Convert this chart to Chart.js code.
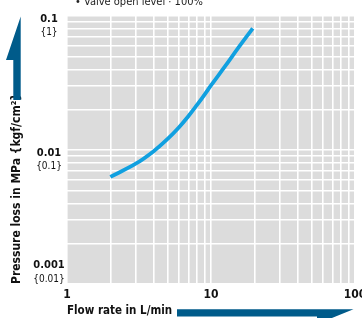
<!DOCTYPE html>
<html>
<head>
<meta charset="utf-8">
<script src="https://cdn.jsdelivr.net/npm/chart.js@4.4.1/dist/chart.umd.min.js"></script>
<style>
  html, body { margin: 0; padding: 0; background: #fff; }
  #wrap { width: 362px; height: 318px; position: relative; }
</style>
</head>
<body>
<div id="wrap"><canvas id="lossChart"></canvas></div>
<script>
// flow rate (L/min) and pressure loss (MPa)
var flowRates = [2, 3, 4, 5, 6, 7, 8, 9, 10, 12.5, 15.5, 19.5];
var pressureLoss = [0.0063, 0.0079, 0.0098, 0.0121, 0.0148, 0.0180, 0.0217, 0.0258, 0.0303, 0.042, 0.058, 0.081];

var xLabelValues = [1, 10, 100];
var xLabels = ["1", "10", "100"];
var yLabelValues = [0.001, 0.01, 0.1];
var yLabelsMPa = ["0.001", "0.01", "0.1"];
var yLabelsKgf = ["{0.01}", "{0.1}", "{1}"];

var noteText = "\u2022 Valve open level \u00b7 100%";
var xTitle = "Flow rate in L/min";
var yTitle = "Pressure loss in MPa {kgf/cm\u00b2}";

var FONT = "'DejaVu Sans Condensed', 'Liberation Sans Narrow', sans-serif";

function decadeGrid(min, max) {
  var out = [];
  for (var d = min; d < max; d *= 10) {
    for (var k = 1; k < 10; k++) out.push(+(k * d).toPrecision(3));
  }
  out.push(max);
  return out;
}

var extras = {
  id: 'extras',
  beforeDraw: function (chart) {
    var c = chart.ctx, a = chart.chartArea;
    c.save();
    c.fillStyle = '#dcdcdc';
    c.fillRect(a.left, a.top, a.right - a.left, a.bottom - a.top);
    c.restore();
  },
  afterDraw: function (chart) {
    var c = chart.ctx, a = chart.chartArea, y = chart.scales.y;
    c.save();
    // y tick labels, two lines each
    c.fillStyle = '#111';
    c.textAlign = 'center';
    c.textBaseline = 'middle';
    for (var i = 0; i < yLabelValues.length; i++) {
      var py = y.getPixelForValue(yLabelValues[i]);
      var y0 = Math.min(py + 3, a.bottom - 18.5);
      c.font = 'bold 11px ' + FONT;
      c.fillText(yLabelsMPa[i], 49, y0);
      c.font = '10px ' + FONT;
      c.fillText(yLabelsKgf[i], 49, y0 + 13.5);
    }
    // note at top
    c.textAlign = 'left';
    c.textBaseline = 'alphabetic';
    c.font = '11px ' + FONT;
    c.fillStyle = '#222';
    c.fillText(noteText, 75, 5);

    // arrows
    c.fillStyle = '#005b8a';
    c.beginPath();
    c.moveTo(20.7, 16.5);
    c.lineTo(20.7, 100);
    c.lineTo(13.3, 100);
    c.lineTo(13.3, 60);
    c.lineTo(6, 60);
    c.closePath();
    c.fill();
    c.beginPath();
    c.moveTo(177, 309.3);
    c.lineTo(353.5, 309.3);
    c.lineTo(317, 324);
    c.lineTo(317, 316.5);
    c.lineTo(177, 316.5);
    c.closePath();
    c.fill();
    c.restore();
  }
};

var ctx = document.getElementById('lossChart').getContext('2d');

var myChart = new Chart(ctx, {
  type: 'line',
  data: {
    labels: flowRates,
    datasets: [{
      label: 'Pressure loss',
      data: flowRates.map(function (f, i) { return { x: f, y: pressureLoss[i] }; }),
      borderColor: '#10a0e0',
      borderWidth: 3.8,
      pointRadius: 0,
      fill: false,
      tension: 0.4
    }]
  },
  options: {
    responsive: true,
    maintainAspectRatio: false,
    animation: false,
    layout: { padding: { top: 16, right: 7, left: 0, bottom: 0 } },
    plugins: {
      legend: { display: false },
      tooltip: { enabled: false }
    },
    scales: {
      x: {
        type: 'logarithmic',
        min: 1,
        max: 100,
        border: { display: false },
        grid: { color: '#ffffff', lineWidth: 1.6, drawTicks: false },
        afterBuildTicks: function (scale) {
          scale.ticks = decadeGrid(1, 100).map(function (v) { return { value: v }; });
        },
        afterFit: function (scale) {
          scale.height = 34;
          scale.paddingLeft = 0;
          scale.paddingRight = 0;
        },
        ticks: {
          autoSkip: false,
          maxRotation: 0,
          padding: 4,
          color: '#111',
          font: { family: FONT, size: 12, weight: 'bold' },
          callback: function (v) {
            var i = xLabelValues.indexOf(v);
            return i >= 0 ? xLabels[i] : '';
          }
        },
        title: {
          display: true,
          text: xTitle,
          align: 'start',
          color: '#111',
          padding: 0,
          font: { family: FONT, size: 11.5, weight: 'bold' }
        }
      },
      y: {
        type: 'logarithmic',
        min: 0.001,
        max: 0.1,
        border: { display: false },
        grid: { color: '#ffffff', lineWidth: 1.6, drawTicks: false },
        afterBuildTicks: function (scale) {
          scale.ticks = decadeGrid(0.001, 0.1).map(function (v) { return { value: v }; });
        },
        afterFit: function (scale) {
          scale.width = 67;
          scale.paddingTop = 0;
          scale.paddingBottom = 0;
        },
        ticks: { display: false },
        title: {
          display: true,
          text: yTitle,
          align: 'start',
          color: '#111',
          padding: { top: 10, bottom: 0 },
          font: { family: FONT, size: 12, weight: 'bold' }
        }
      }
    }
  },
  plugins: [extras]
});
</script>
</body>
</html>
